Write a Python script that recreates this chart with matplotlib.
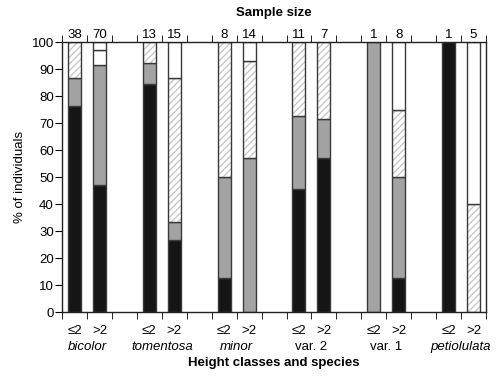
import matplotlib
matplotlib.use("Agg")
import matplotlib.pyplot as plt
import numpy as np

plt.rcParams['font.family'] = ['Liberation Sans', 'DejaVu Sans']

# bar positions in groups of two (<=2 m, >2 m) per species
positions = [0, 1, 3, 4, 6, 7, 9, 10, 12, 13, 15, 16]
height_classes = ['≤2', '>2'] * 6
species = ['bicolor', 'tomentosa', 'minor', 'var. 2', 'var. 1', 'petiolulata']
species_italic = [True, True, True, False, False, True]
sample_size = [38, 70, 13, 15, 8, 14, 11, 7, 1, 8, 1, 5]

# % of individuals per segment, bottom to top
black = [76.3, 47.1, 84.6, 26.7, 12.5, 0, 45.5, 57.1, 0, 12.5, 100, 0]
gray = [10.5, 44.3, 7.7, 6.6, 37.5, 57.1, 27.2, 14.3, 100, 37.5, 0, 0]
hatched = [13.2, 0, 7.7, 53.4, 50, 35.8, 27.3, 28.6, 0, 25, 0, 40]
white = [0, 5.7, 0, 13.3, 0, 7.1, 0, 0, 0, 25, 0, 60]
white_top = [0, 2.9, 0, 0, 0, 0, 0, 0, 0, 0, 0, 0]


def main():
    fig = plt.figure(figsize=(5.01, 3.76), dpi=100)
    ax = fig.add_axes([0.124, 0.170, 0.846, 0.718])

    width = 0.52
    edge = '#3a3a3a'
    bottom = np.zeros(len(positions))
    layers = [(black, '#151515', None), (gray, '#a3a3a3', None),
              (hatched, 'white', '/////'), (white, 'white', None),
              (white_top, 'white', None)]
    for vals, color, hatch in layers:
        vals = np.array(vals, dtype=float)
        m = vals > 0
        x = np.array(positions)[m]
        # fill (hatch drawn in light gray), then the dark outline on top
        if hatch:
            ax.bar(x, vals[m], width, bottom=bottom[m], color=color,
                   hatch=hatch, edgecolor='#c8c8c8', linewidth=0)
        else:
            ax.bar(x, vals[m], width, bottom=bottom[m], color=color,
                   linewidth=0)
        ax.bar(x, vals[m], width, bottom=bottom[m], fill=False,
               edgecolor=edge, linewidth=1.0)
        bottom = bottom + vals

    ax.set_xlim(-0.5, 16.5)
    ax.set_ylim(0, 100)
    ax.set_yticks(range(0, 101, 10))
    ax.tick_params(axis='y', direction='out', length=5, labelsize=9.5,
                   pad=1)
    ax.set_xticks(positions)
    ax.set_xticklabels(height_classes, fontsize=9.5)
    ax.tick_params(axis='x', which='major', length=0, pad=9)
    ax.set_xticks(np.arange(-0.5, 16.6, 1), minor=True)
    ax.tick_params(axis='x', which='minor', direction='out', length=5,
                   top=True, bottom=True)
    for s in ax.spines.values():
        s.set_linewidth(1.0)
        s.set_color('#222222')

    # sample sizes above each bar
    for x, n in zip(positions, sample_size):
        ax.annotate(str(n), (x, 100), xytext=(0, 1), textcoords='offset points',
                    ha='center', va='bottom', fontsize=9.5, annotation_clip=False)
    ax.text(0.5, 1.085, 'Sample size', transform=ax.transAxes, ha='center',
            va='bottom', fontsize=9.5, fontweight='bold')

    # species names under each pair
    for i, name in enumerate(species):
        xc = positions[2 * i] + 0.5
        ax.annotate(name, (xc, 0), xytext=(0, -25), textcoords='offset points',
                    ha='center', va='center', fontsize=9.5,
                    style='italic' if species_italic[i] else 'normal',
                    annotation_clip=False)
    ax.set_xlabel('Height classes and species', fontsize=9.5,
                  fontweight='bold', labelpad=15)
    ax.set_ylabel('% of individuals', fontsize=9.5, labelpad=4)

    fig.savefig('out.png', dpi=100)


if __name__ == "__main__":
    main()
